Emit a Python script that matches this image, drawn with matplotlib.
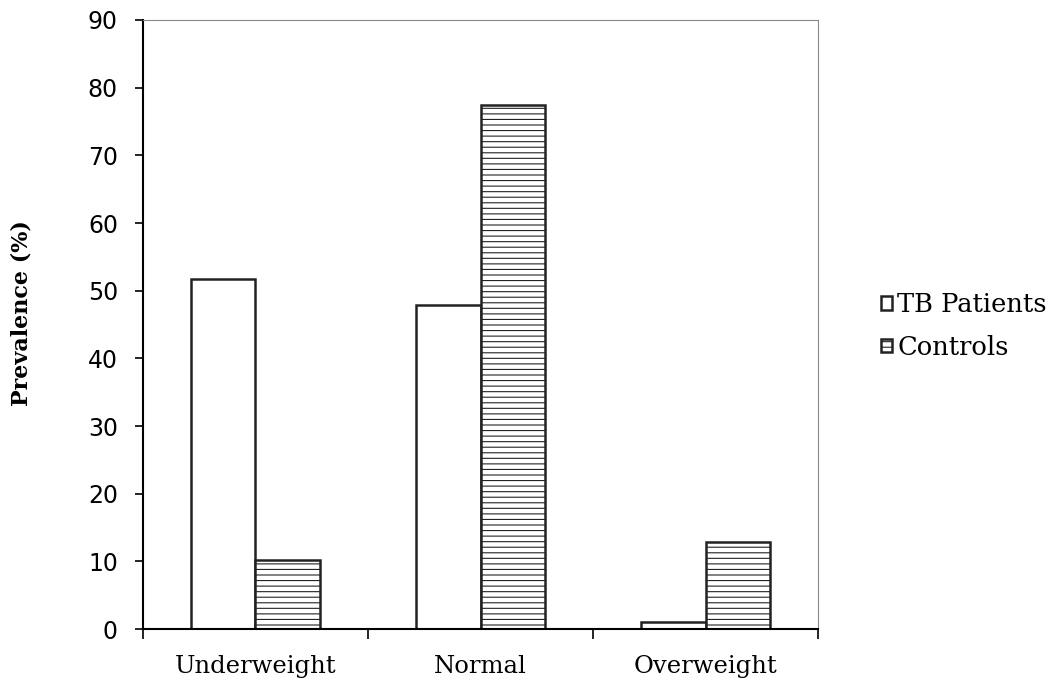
import numpy as np
import matplotlib.pyplot as plt

categories = ["Underweight", "Normal", "Overweight"]
tb_patients = [51.7, 47.9, 1.0]
controls = [10.2, 77.4, 12.9]
y_ticks = [0, 10, 20, 30, 40, 50, 60, 70, 80, 90]

plt.rcParams['hatch.linewidth'] = 0.8

fig = plt.figure(figsize=(10.55, 6.87), dpi=100)
ax = fig.add_axes([0.1355, 0.0844, 0.64, 0.8865])

x = np.arange(len(categories))
w = 0.285
b1 = ax.bar(x - w / 2, tb_patients, w, color="white", edgecolor="#222222", linewidth=1.8, label="TB Patients")
b2 = ax.bar(x + w / 2, controls, w, color="white", edgecolor="#222222", linewidth=1.8, hatch="---", label="Controls")

ax.set_xlim(-0.5, 2.5)
ax.set_ylim(0, 90)
ax.set_yticks(y_ticks)
ax.set_xticks([-0.5, 0.5, 1.5, 2.5])
ax.set_xticklabels([])
ax.set_xticks(x, minor=True)
ax.set_xticklabels(categories, minor=True, family="DejaVu Serif", fontsize=17.5)
ax.tick_params(axis="x", which="minor", length=0, pad=19)
ax.tick_params(axis="x", which="major", direction="out", length=7, width=1.2)
ax.tick_params(axis="y", direction="out", length=6, width=1.2, labelsize=17, pad=12)
for lab in ax.get_yticklabels():
    lab.set_family("DejaVu Sans")

ax.spines["left"].set_linewidth(1.5)
ax.spines["bottom"].set_linewidth(1.5)
ax.spines["top"].set_color("#888888")
ax.spines["right"].set_color("#888888")

ax.set_ylabel("Prevalence (%)", family="DejaVu Serif", fontweight="bold", fontsize=16)
ax.yaxis.set_label_coords(-0.163, 0.518)

fig.legend(handles=[b1, b2], loc="center left", bbox_to_anchor=(0.835, 0.5255), frameon=False,
           prop={"family": "DejaVu Serif", "size": 18.5}, handlelength=0.43, handleheight=0.43,
           handletextpad=0.2, labelspacing=0.68, borderpad=0, borderaxespad=0)

fig.savefig("out.png", dpi=100)
